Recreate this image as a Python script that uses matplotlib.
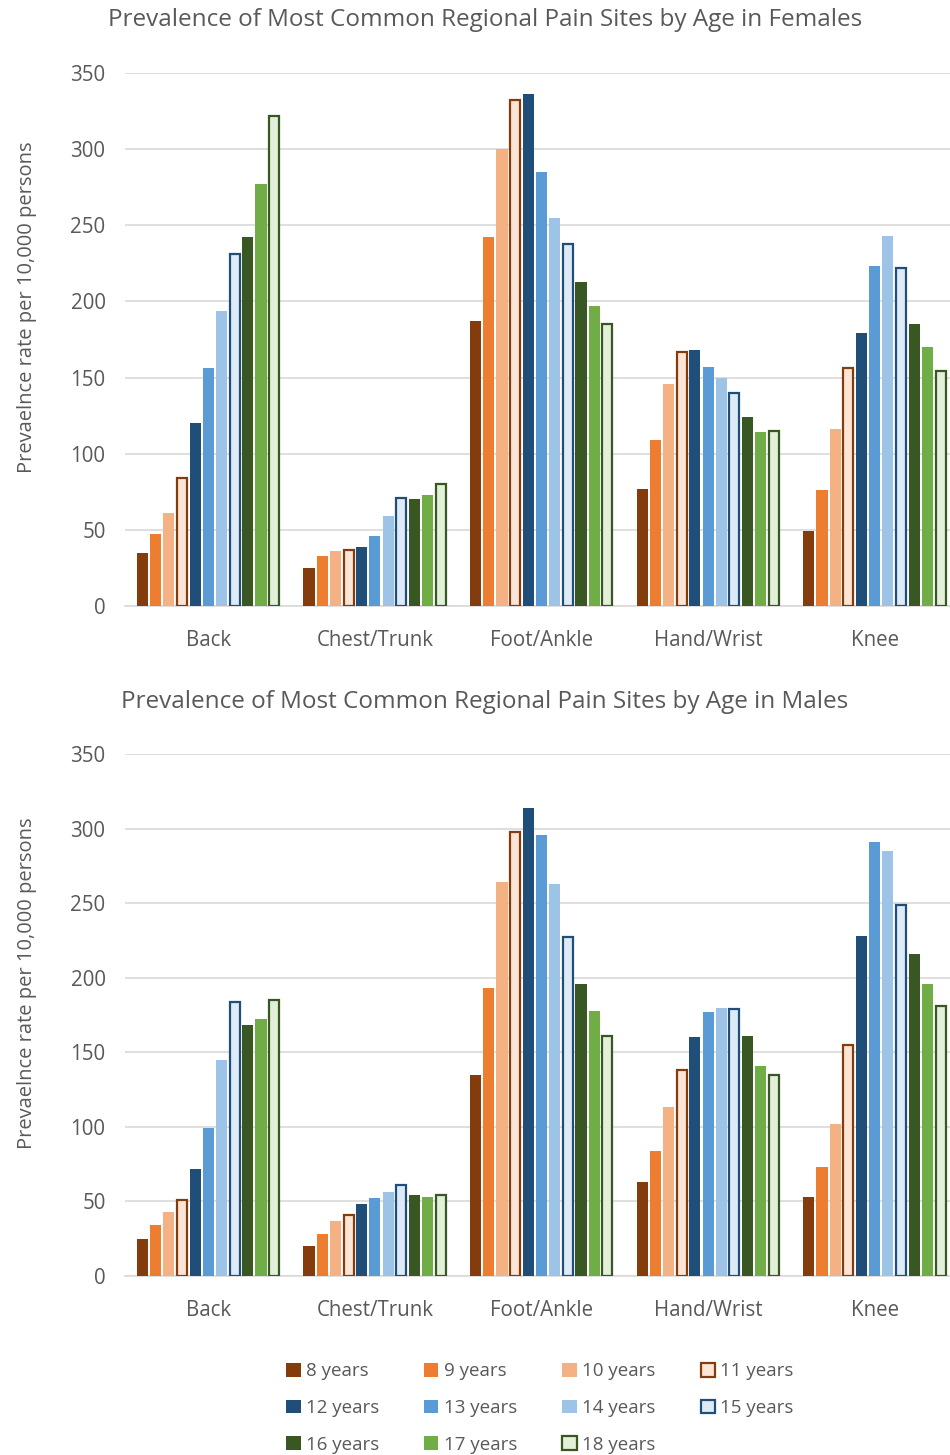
import matplotlib
matplotlib.use("Agg")
import matplotlib.pyplot as plt
import numpy as np
from matplotlib.patches import Patch

plt.rcParams['font.family'] = ['Open Sans', 'DejaVu Sans']

categories = ["Back", "Chest/Trunk", "Foot/Ankle", "Hand/Wrist", "Knee"]
ages = ["8 years", "9 years", "10 years", "11 years", "12 years", "13 years",
        "14 years", "15 years", "16 years", "17 years", "18 years"]

# values per age, ordered by category (Back, Chest/Trunk, Foot/Ankle, Hand/Wrist, Knee)
female_8 = [35, 25, 187, 77, 49]
female_9 = [47, 33, 242, 109, 76]
female_10 = [61, 36, 300, 146, 116]
female_11 = [84, 37, 332, 167, 156]
female_12 = [120, 39, 336, 168, 179]
female_13 = [156, 46, 285, 157, 223]
female_14 = [194, 59, 255, 150, 243]
female_15 = [231, 71, 238, 140, 222]
female_16 = [242, 70, 213, 124, 185]
female_17 = [277, 73, 197, 114, 170]
female_18 = [322, 80, 185, 115, 154]

male_8 = [25, 20, 135, 63, 53]
male_9 = [34, 28, 193, 84, 73]
male_10 = [43, 37, 264, 113, 102]
male_11 = [51, 41, 298, 138, 155]
male_12 = [72, 48, 314, 160, 228]
male_13 = [99, 52, 296, 177, 291]
male_14 = [145, 56, 263, 180, 285]
male_15 = [184, 61, 227, 179, 249]
male_16 = [168, 54, 196, 161, 216]
male_17 = [172, 53, 178, 141, 196]
male_18 = [185, 54, 161, 135, 181]

female = [female_8, female_9, female_10, female_11, female_12, female_13,
          female_14, female_15, female_16, female_17, female_18]
male = [male_8, male_9, male_10, male_11, male_12, male_13,
        male_14, male_15, male_16, male_17, male_18]

fills = ["#843C0C", "#ED7D31", "#F4B183", "#FBE5D6",
         "#1F4E79", "#5B9BD5", "#9DC3E6", "#DEEBF7",
         "#385723", "#70AD47", "#E2F0D9"]
edges = [None, None, None, "#843C0C",
         None, None, None, "#1F4E79",
         None, None, "#385723"]

TXT = "#595959"
GRID = "#D9D9D9"

fig = plt.figure(figsize=(9.5, 14.55), dpi=100)

def draw(ax, data):
    n = len(data)
    x = np.arange(len(categories))
    slot = 0.87 / n
    bw = slot * 0.84
    for i, vals in enumerate(data):
        off = (i - (n - 1) / 2) * slot
        if edges[i] is None:
            ax.bar(x + off, vals, width=bw, color=fills[i], linewidth=0, zorder=3)
        else:
            ax.bar(x + off, vals, width=bw - 0.006, color=fills[i], edgecolor=edges[i],
                   linewidth=1.6, zorder=3)
    ax.set_xlim(-0.5, len(categories) - 0.5)
    ax.set_ylim(0, 350)
    ax.set_yticks(np.arange(0, 351, 50))
    ax.yaxis.grid(True, color=GRID, linewidth=1.2, zorder=0)
    ax.set_axisbelow(True)
    for s in ["top", "right", "left"]:
        ax.spines[s].set_visible(False)
    ax.spines["bottom"].set_color(GRID)
    ax.spines["bottom"].set_linewidth(1.2)
    ax.tick_params(axis="both", length=0, colors=TXT, labelsize=14.8)
    ax.tick_params(axis="y", pad=14)
    ax.tick_params(axis="x", pad=17)
    ax.set_xticks(x)
    ax.set_xticklabels(categories)
    ax.set_ylabel("Prevaelnce rate per 10,000 persons", color=TXT, fontsize=14.5)
    ax.yaxis.set_label_coords(-0.1056, 0.56)

ax1 = fig.add_axes([125 / 950, 1 - 606 / 1455, 833 / 950, 533 / 1455])
draw(ax1, female)
fig.text(485 / 950, 1 - 20 / 1455, "Prevalence of Most Common Regional Pain Sites by Age in Females",
         ha="center", va="center", fontsize=17.5, color=TXT)

ax2 = fig.add_axes([125 / 950, 1 - 1276 / 1455, 833 / 950, 522 / 1455])
draw(ax2, male)
fig.text(485 / 950, 1 - 702 / 1455, "Prevalence of Most Common Regional Pain Sites by Age in Males",
         ha="center", va="center", fontsize=17.5, color=TXT)

handles = []
for i in range(len(ages)):
    if edges[i] is None:
        handles.append(Patch(facecolor=fills[i], edgecolor=fills[i], linewidth=0, label=ages[i]))
    else:
        handles.append(Patch(facecolor=fills[i], edgecolor=edges[i], linewidth=1.6, label=ages[i]))
order = [0, 4, 8, 1, 5, 9, 2, 6, 10, 3, 7]
leg = fig.legend([handles[k] for k in order], [ages[k] for k in order],
                 ncol=4, loc="center", bbox_to_anchor=(540 / 950, 1 - 1408 / 1455),
                 frameon=False, fontsize=13.5, handlelength=0.75, handleheight=0.75,
                 handletextpad=0.3, columnspacing=2.4, labelspacing=1.0)
for t in leg.get_texts():
    t.set_color(TXT)

fig.savefig("out.png", dpi=100)
